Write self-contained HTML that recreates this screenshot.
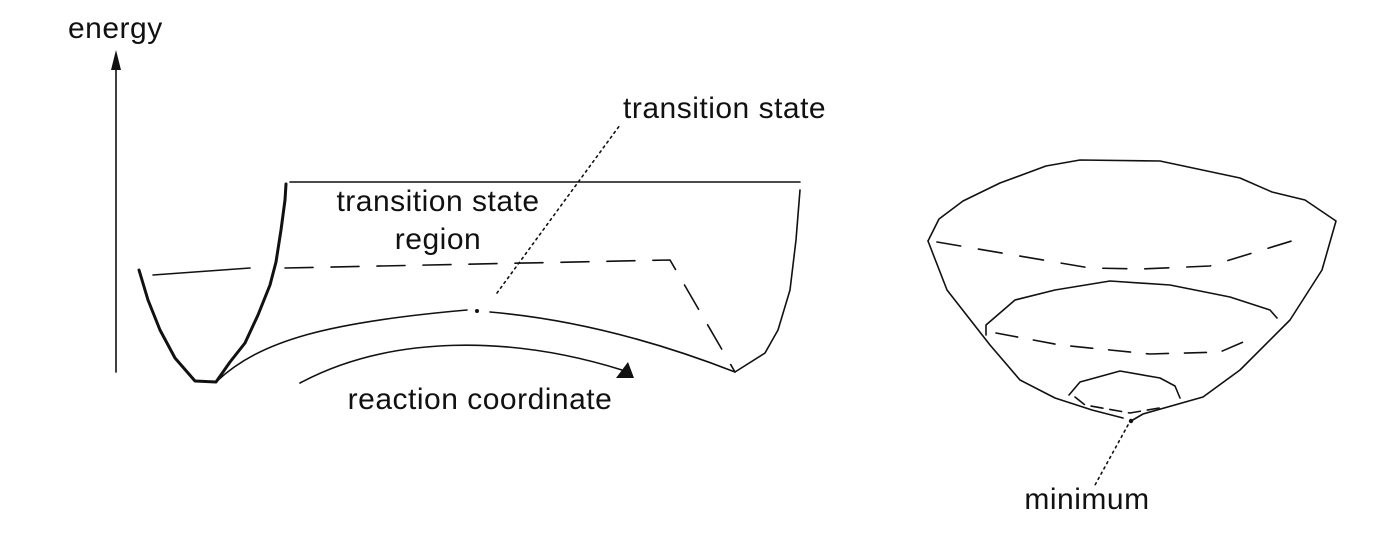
<!DOCTYPE html>
<html><head><style>
html,body{margin:0;padding:0;background:#fff}
svg{display:block}
text{font-family:"Liberation Sans",Arial,sans-serif;font-size:30px;letter-spacing:0.5px;fill:#111}
</style></head><body>
<svg width="1393" height="535" viewBox="0 0 1393 535" fill="none" stroke="#111" stroke-linejoin="round" stroke-linecap="round">
<text x="68" y="38" stroke="none">energy</text>
<line x1="116" y1="372" x2="116" y2="62" stroke-width="1.6"/>
<polygon points="116,50 111,70 121,70" fill="#111" stroke="none"/>
<line x1="290" y1="182" x2="800" y2="182" stroke-width="1.6"/>
<path d="M286,184 L285,200 L281,230 L276,262 L270,285 L258,315 L245,343 L230,362 L216,382 L195,381 L175,358 L160,330 L148,300 L139,270" stroke-width="3"/>
<line x1="153" y1="275" x2="250" y2="268" stroke-width="1.6"/>
<path d="M285,268 L670,260 L735,372" stroke-width="1.6" stroke-dasharray="28,18"/>
<path d="M216,382 C260,340 330,322 467,310" stroke-width="1.6"/>
<circle cx="477" cy="311" r="2" fill="#111" stroke="none"/>
<path d="M490,312 C560,318 640,335 735,372 L765,353 L778,330 L790,290 L796,240 L800,190" stroke-width="1.6"/>
<line x1="497" y1="293" x2="620" y2="125" stroke-width="1.6" stroke-dasharray="2,4"/>
<text x="623" y="118" stroke="none">transition state</text>
<text x="438" y="211" stroke="none" text-anchor="middle">transition state</text>
<text x="438" y="249" stroke="none" text-anchor="middle">region</text>
<path d="M300,383 C390,335 510,335 622,370" stroke-width="1.6"/>
<polygon points="634,378 616,378 628,362" fill="#111" stroke="none"/>
<text x="480" y="409" stroke="none" text-anchor="middle">reaction coordinate</text>
<path d="M928,241 L939,219 L963,201 L1000,183 L1046,166 L1080,160 L1160,161 L1240,178 L1272,192 L1305,200 L1336,221 L1322,270 L1290,320 L1240,370 L1203,397 L1143,414 L1131,421" stroke-width="1.6"/>
<path d="M928,241 L947,290 L990,345 L1020,380 L1055,398 L1092,410 L1123,418" stroke-width="1.6"/>
<path d="M937,242 L1090,268 L1140,269 L1210,266 L1308,236" stroke-width="1.6" stroke-dasharray="24,18"/>
<path d="M986,335 L986,325 L1015,300 L1055,290 L1110,281 L1170,285 L1230,297 L1270,310 L1277,318" stroke-width="1.6"/>
<path d="M996,333 L1060,345 L1150,354 L1220,352 L1255,337" stroke-width="1.6" stroke-dasharray="22,16"/>
<path d="M1069,395 L1080,382 L1120,371 L1160,378 L1175,386 L1180,398" stroke-width="1.6"/>
<path d="M1075,397 L1085,405 L1130,413 L1165,407" stroke-width="1.6" stroke-dasharray="12,7"/>
<circle cx="1131" cy="421" r="2.2" fill="#111" stroke="none"/>
<line x1="1128" y1="425" x2="1095" y2="485" stroke-width="1.6" stroke-dasharray="2,4"/>
<text x="1087" y="509" stroke="none" text-anchor="middle">minimum</text>
</svg>
</body></html>
